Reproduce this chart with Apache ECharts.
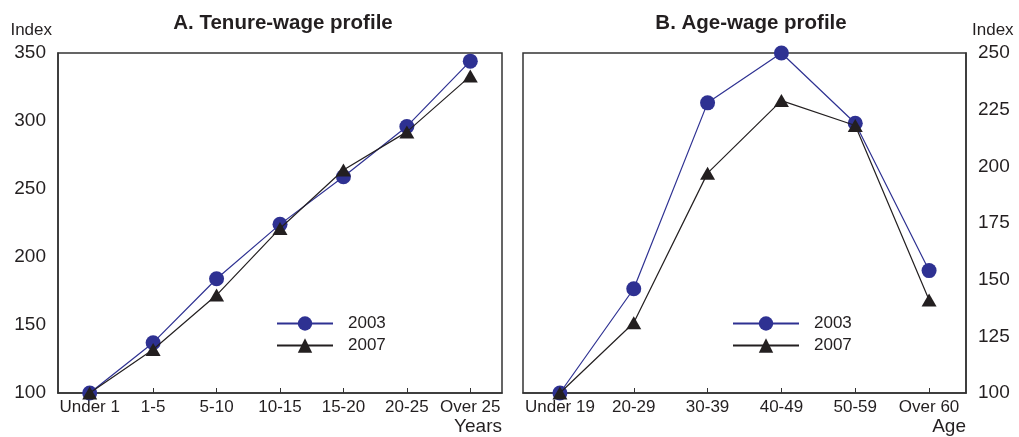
<!DOCTYPE html>
<html>
<head>
<meta charset="utf-8">
<script src="https://cdn.jsdelivr.net/npm/echarts@6/dist/echarts.min.js"></script>
<style>
  html, body { margin: 0; padding: 0; background: #fff; }
  #chart { width: 1019px; height: 437px; }
</style>
</head>
<body>
<div id="chart"></div>
<script>
// panel A: tenure
var tenureCats = ['Under 1', '1-5', '5-10', '10-15', '15-20', '20-25', 'Over 25'];
var tenure2003 = [100, 137, 184, 224, 259, 296, 344];
var tenure2007 = [100, 132, 172, 221, 264, 292, 333];
var tenureTicks = { min: 100, max: 350, interval: 50 };

// panel B: age
var ageCats = ['Under 19', '20-29', '30-39', '40-49', '50-59', 'Over 60'];
var age2003 = [100, 146, 228, 250, 219, 154];
var age2007 = [100, 131, 197, 229, 218, 141];
var ageTicks = { min: 100, max: 250, interval: 25 };

var FONT = '"Liberation Sans", Arial, sans-serif';
var TXT = '#231f20';
var BLUE = '#2e3192';
var BLACK = '#231f20';

var myChart = echarts.init(document.getElementById('chart'));

function xAxisFor(idx, cats, name) {
	return {
		gridIndex: idx,
		type: 'category',
		data: cats,
		boundaryGap: true,
		name: name,
		nameLocation: 'end',
		nameGap: 0,
		nameTextStyle: { fontFamily: FONT, fontSize: 19, color: TXT, align: 'right', verticalAlign: 'top', padding: [24, 0, 0, 0] },
		axisLine: { show: true, lineStyle: { color: '#333', width: 1.5 } },
		axisTick: { show: true, inside: true, alignWithLabel: true, length: 5, lineStyle: { color: '#333', width: 1 } },
		axisLabel: { fontFamily: FONT, fontSize: 17, color: TXT, margin: 6, interval: 0 },
		splitLine: { show: false }
	};
}

function yAxisFor(idx, ticks, pos) {
	return {
		gridIndex: idx,
		type: 'value',
		position: pos,
		min: ticks.min,
		max: ticks.max,
		interval: ticks.interval,
		name: 'Index',
		nameLocation: 'end',
		nameGap: 23,
		nameTextStyle: {
			fontFamily: FONT, fontSize: 17, color: TXT, verticalAlign: 'middle',
			align: pos === 'left' ? 'right' : 'left',
			padding: pos === 'left' ? [0, 6, 0, 0] : [0, 0, 0, 6]
		},
		axisLine: { show: true, lineStyle: { color: '#333', width: 1.5 } },
		axisTick: { show: false },
		axisLabel: { fontFamily: FONT, fontSize: 19, color: TXT, margin: 12 },
		splitLine: { show: false }
	};
}

function lineSeries(name, data, idx, isCircle) {
	return {
		name: name,
		type: 'line',
		xAxisIndex: idx,
		yAxisIndex: idx,
		data: data,
		clip: false,
		symbol: isCircle ? 'circle' : 'triangle',
		symbolSize: isCircle ? 15 : [15, 13],
		lineStyle: { color: isCircle ? BLUE : BLACK, width: 1.2 },
		itemStyle: { color: isCircle ? BLUE : BLACK },
		z: isCircle ? 2 : 3
	};
}

function legendAt(left, width) {
	return {
		orient: 'vertical',
		left: left,
		top: 310,
		itemWidth: width,
		itemHeight: 18,
		itemGap: 5,
		data: ['2003', '2007'],
		selectedMode: false,
		textStyle: { fontFamily: FONT, fontSize: 17, color: TXT, padding: [0, 0, 0, 10] }
	};
}

var option = {
	animation: false,
	backgroundColor: '#fff',
	title: [
		{ text: 'A. Tenure-wage profile', left: 278, textAlign: 'center', top: 8,
		  textStyle: { fontFamily: FONT, fontSize: 20.5, fontWeight: 'bold', color: TXT } },
		{ text: 'B. Age-wage profile', left: 746, textAlign: 'center', top: 8,
		  textStyle: { fontFamily: FONT, fontSize: 20.5, fontWeight: 'bold', color: TXT } }
	],
	legend: [legendAt(271, 56), legendAt(727, 66)],
	grid: [
		{ left: 58, right: 517, top: 53, bottom: 44, show: true, borderColor: '#333', borderWidth: 1.5 },
		{ left: 523, right: 53, top: 53, bottom: 44, show: true, borderColor: '#333', borderWidth: 1.5 }
	],
	xAxis: [xAxisFor(0, tenureCats, 'Years'), xAxisFor(1, ageCats, 'Age')],
	yAxis: [yAxisFor(0, tenureTicks, 'left'), yAxisFor(1, ageTicks, 'right')],
	series: [
		lineSeries('2003', tenure2003, 0, true),
		lineSeries('2007', tenure2007, 0, false),
		lineSeries('2003', age2003, 1, true),
		lineSeries('2007', age2007, 1, false)
	]
};

myChart.setOption(option);
</script>
</body>
</html>
